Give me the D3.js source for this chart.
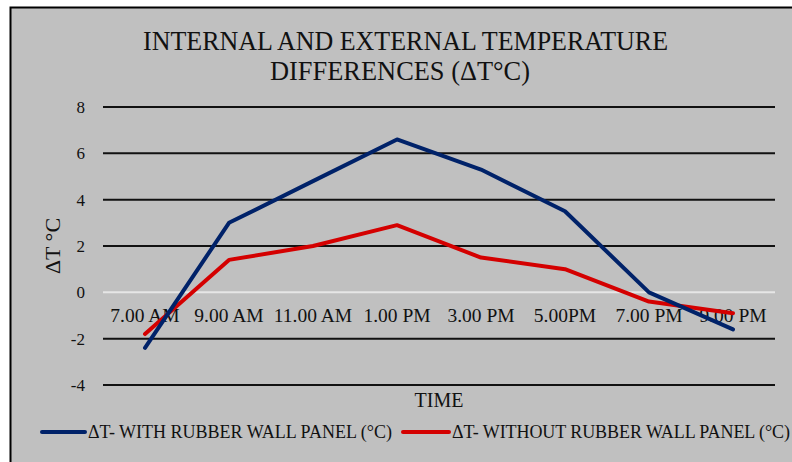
<!DOCTYPE html>
<html>
 <head>
    <title>Temperature Differences</title>
    <script src="https://d3js.org/d3.v7.min.js"></script>
    <style>
      body { margin: 0; background: #fff; }
      text { font-family: "Liberation Serif", "Times New Roman", serif; fill: #111; }
    </style>
 </head>
 <body>
    <div id="chart"></div>
    <script>
      // categories and series
      var times = ["7.00 AM", "9.00 AM", "11.00 AM", "1.00 PM", "3.00 PM", "5.00PM", "7.00 PM", "9.00 PM"];
      var withPanel = [-2.4, 3.0, 4.8, 6.6, 5.3, 3.5, 0.0, -1.6];
      var withoutPanel = [-1.8, 1.4, 2.0, 2.9, 1.5, 1.0, -0.4, -0.9];
      var yTicks = [-4, -2, 0, 2, 4, 6, 8];
      var seriesNames = ["\u0394T- WITH RUBBER WALL PANEL (\u00b0C)", "\u0394T- WITHOUT RUBBER WALL PANEL (\u00b0C)"];

      var width = 792, height = 462;
      var plotLeft = 103, plotRight = 775, plotTop = 107, plotBottom = 385;

      var svg = d3.select("#chart")
        .append("svg")
        .attr("width", width)
        .attr("height", height);

      // grey panel with black top/left edge
      svg.append("rect")
        .attr("x", 10).attr("y", 7)
        .attr("width", width - 10).attr("height", height - 7)
        .attr("fill", "#c0c0c0");
      svg.append("path")
        .attr("d", "M10.5," + height + "V7.5H" + width)
        .attr("fill", "none")
        .attr("stroke", "#000")
        .attr("stroke-width", 2);

      var x = d3.scalePoint()
        .domain(times)
        .range([plotLeft, plotRight])
        .padding(0.5);

      var y = d3.scaleLinear()
        .domain([-4, 8])
        .range([plotBottom, plotTop]);

      // horizontal gridlines
      svg.append("g")
        .selectAll("line")
        .data(yTicks)
        .enter()
        .append("line")
        .attr("x1", plotLeft).attr("x2", plotRight)
        .attr("y1", function (d) { return y(d); })
        .attr("y2", function (d) { return y(d); })
        .attr("stroke", function (d) { return d === 0 ? "#e6e6e6" : "#111"; })
        .attr("stroke-width", 2);

      // y tick labels
      svg.append("g")
        .selectAll("text")
        .data(yTicks)
        .enter()
        .append("text")
        .attr("x", 85)
        .attr("y", function (d) { return y(d); })
        .attr("dy", "0.35em")
        .attr("text-anchor", "end")
        .style("font-size", "17px")
        .text(function (d) { return d; });

      // x category labels, sitting just under the zero line
      svg.append("g")
        .selectAll("text")
        .data(times)
        .enter()
        .append("text")
        .attr("x", function (d) { return x(d); })
        .attr("y", y(0) + 30)
        .attr("text-anchor", "middle")
        .style("font-size", "19.5px")
        .text(function (d) { return d; });

      // lines
      var line = d3.line()
        .x(function (d, i) { return x(times[i]); })
        .y(function (d) { return y(d); });

      var series = [
        { values: withoutPanel, color: "#d40000" },
        { values: withPanel, color: "#002269" }
      ];
      svg.append("g")
        .selectAll("path")
        .data(series)
        .enter()
        .append("path")
        .attr("d", function (d) { return line(d.values); })
        .attr("fill", "none")
        .attr("stroke", function (d) { return d.color; })
        .attr("stroke-width", 4)
        .attr("stroke-linejoin", "round")
        .attr("stroke-linecap", "round");

      // titles
      svg.append("text")
        .attr("x", 143).attr("y", 50)
        .attr("textLength", 525)
        .attr("lengthAdjust", "spacingAndGlyphs")
        .style("font-size", "28px")
        .text("INTERNAL AND EXTERNAL TEMPERATURE");
      svg.append("text")
        .attr("x", 270).attr("y", 80)
        .attr("textLength", 260)
        .attr("lengthAdjust", "spacingAndGlyphs")
        .style("font-size", "28px")
        .text("DIFFERENCES (\u0394T\u00b0C)");

      svg.append("text")
        .attr("x", (plotLeft + plotRight) / 2).attr("y", 407)
        .attr("text-anchor", "middle")
        .style("font-size", "20px")
        .text("TIME");

      svg.append("text")
        .attr("transform", "translate(60," + (plotTop + plotBottom) / 2 + ") rotate(-90)")
        .attr("text-anchor", "middle")
        .style("font-size", "22px")
        .text("\u0394T \u00b0C");

      // legend
      var legend = [
        { name: seriesNames[0], color: "#002269", x1: 42, x2: 85, tx: 88, tw: 304 },
        { name: seriesNames[1], color: "#d40000", x1: 403, x2: 449, tx: 452, tw: 338 }
      ];
      var lg = svg.append("g")
        .selectAll("g")
        .data(legend)
        .enter()
        .append("g");
      lg.append("line")
        .attr("x1", function (d) { return d.x1; })
        .attr("x2", function (d) { return d.x2; })
        .attr("y1", 432).attr("y2", 432)
        .attr("stroke", function (d) { return d.color; })
        .attr("stroke-width", 4)
        .attr("stroke-linecap", "round");
      lg.append("text")
        .attr("x", function (d) { return d.tx; })
        .attr("y", 438)
        .attr("textLength", function (d) { return d.tw; })
        .attr("lengthAdjust", "spacing")
        .style("font-size", "18px")
        .text(function (d) { return d.name; });
    </script>
 </body>
</html>
